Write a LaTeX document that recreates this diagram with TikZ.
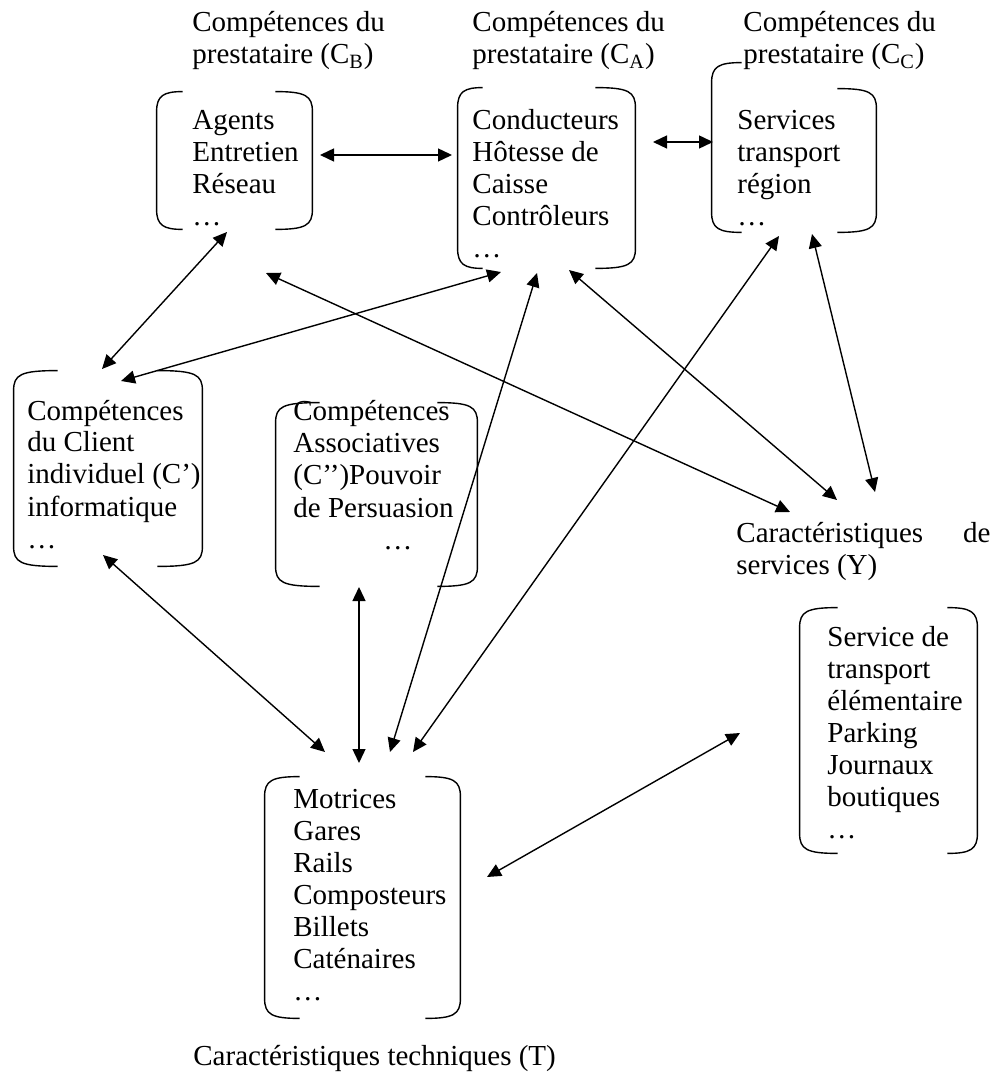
\documentclass[tikz,border=0pt]{standalone}
\usepackage{fontspec}
\setmainfont{Liberation Serif}
\usetikzlibrary{arrows.meta,calc,fit}
\newcommand\fsz{\fontsize{14.5pt}{16pt}\selectfont}
\newcommand\lbrk[3]{% node, stub, top offset
  \draw[brk] ($(#1.north west)+(#2,#3)$) .. controls ($(#1.north west)+(7,#3)$) and ($(#1.north west)+(0,#3+4)$) .. ($(#1.north west)+(0,#3+20)$)
   -- ($(#1.south west)+(0,-20)$) .. controls ($(#1.south west)+(0,-4)$) and ($(#1.south west)+(7,0)$) .. ($(#1.south west)+(#2,0)$);}
\newcommand\rbrk[3]{% node, stub, top offset
  \draw[brk] ($(#1.north east)+(-#2,#3)$) .. controls ($(#1.north east)+(-7,#3)$) and ($(#1.north east)+(0,#3+4)$) .. ($(#1.north east)+(0,#3+20)$)
   -- ($(#1.south east)+(0,-20)$) .. controls ($(#1.south east)+(0,-4)$) and ($(#1.south east)+(-7,0)$) .. ($(#1.south east)+(-#2,0)$);}
\tikzset{
  txt/.style={anchor=base west, inner sep=0pt, align=flush left, text width=150pt, font=\fsz},
  frame/.style={inner sep=0pt, draw=none},
  brk/.style={line width=0.7pt},
  conn/.style={line width=0.7pt, {Triangle[length=7pt,width=6.5pt]}-{Triangle[length=7pt,width=6.5pt]}}
}
\begin{document}
\begin{tikzpicture}[x=0.5pt,y=-0.5pt]
\useasboundingbox (0,0) rectangle (995,1074);
% frames
\node[frame, fit={(157,92) (312,229)}] (CB) {};
\node[frame, fit={(458,88) (635,268)}] (CA) {};
\node[frame, fit={(712,63) (876,232)}] (CC) {};
\node[frame, fit={(14,371) (202,566)}] (C1) {};
\node[frame, fit={(276,403) (477,586)}] (C2) {};
\node[frame, fit={(800,608) (977,853)}] (Y) {};
\node[frame, fit={(265,777) (460,1018)}] (T) {};
\lbrk{CB}{26}{0}\rbrk{CB}{37}{0}
\lbrk{CA}{25}{0}\rbrk{CA}{40}{0}
\lbrk{CC}{30}{0}\rbrk{CC}{39}{26}
\lbrk{C1}{44}{0}\rbrk{C1}{45}{0}
\lbrk{C2}{44}{0}\rbrk{C2}{40}{0}
\lbrk{Y}{38}{0}\rbrk{Y}{30}{0}
\lbrk{T}{35}{0}\rbrk{T}{35}{0}
% texts
\node[txt] (hCB) at (192,32) {Compétences du\\prestataire (C\textsubscript{B})};
\node[txt] (hCA) at (472,32) {Compétences du\\prestataire (C\textsubscript{A})};
\node[txt] (hCC) at (743,32) {Compétences du\\prestataire (C\textsubscript{C})};
\node[txt] (tCB) at (192,130) {Agents\\Entretien\\Réseau\\…};
\node[txt] (tCA) at (472,130) {Conducteurs\\Hôtesse de\\Caisse\\Contrôleurs\\…};
\node[txt] (tCC) at (737,130) {Services\\transport\\région\\…};
\node[txt] (tC1) at (27,420) {Compétences\\du Client\\individuel (C’)\\informatique\\…};
\node[txt] (tC2) at (293,421) {Compétences\\Associatives\\(C’’)Pouvoir\\de Persuasion\\\hspace*{45pt}…};
\node[txt, text width=127pt] (hY) at (736,542) {Caractéristiques\hfill de\\services (Y)};
\node[txt] (tY) at (827,646) {Service de\\transport\\élémentaire\\Parking\\Journaux\\boutiques\\…};
\node[txt] (tT) at (293,808) {Motrices\\Gares\\Rails\\Composteurs\\Billets\\Caténaires\\…};
\node[txt, text width=300pt] (hT) at (193,1065) {Caractéristiques techniques (T)};
% connector end points
\coordinate (a1) at (320,155); \coordinate (b1) at (452,155);
\coordinate (a2) at (653,142); \coordinate (b2) at (713,142);
\coordinate (a3) at (227,232); \coordinate (b3) at (102,369);
\coordinate (a4) at (501,272); \coordinate (b4) at (121,381);
\coordinate (a5) at (266,273); \coordinate (b5) at (790,512);
\coordinate (a6) at (569,270); \coordinate (b6) at (837,500);
\coordinate (a7) at (812,234); \coordinate (b7) at (875,492);
\coordinate (a8) at (103,555); \coordinate (b8) at (325,752);
\coordinate (a9) at (359,587); \coordinate (b9) at (359,763);
\coordinate (a10) at (537,273); \coordinate (b10) at (390,752);
\coordinate (a11) at (779,236); \coordinate (b11) at (413,752);
\coordinate (a12) at (487,877); \coordinate (b12) at (740,733);
\foreach \i in {1,...,12} {\draw[conn] (a\i) -- (b\i);}
\end{tikzpicture}
\end{document}
